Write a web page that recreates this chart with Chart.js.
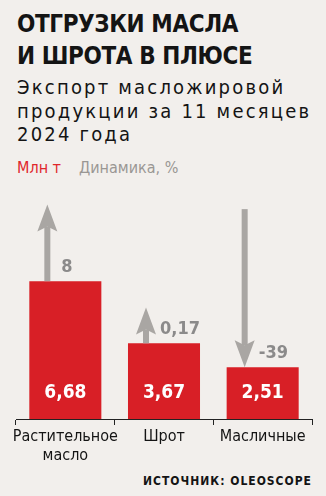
<!DOCTYPE html>
<html lang="ru">
<head>
<meta charset="utf-8">
<script src="https://cdn.jsdelivr.net/npm/chart.js@4"></script>
<style>
  html, body { margin: 0; padding: 0; }
  body {
    width: 326px; height: 496px; position: relative; overflow: hidden;
    background: #f2efec; color: #141414;
    font-family: "Liberation Sans Narrow", "DejaVu Sans Condensed", Roboto, sans-serif;
  }
  div { white-space: nowrap; }
  .title { position: absolute; left: 17px; top: 8px; font-size: 24px; line-height: 32px; font-weight: bold; letter-spacing: -0.4px; }
  .subtitle { position: absolute; left: 17px; top: 76px; font-size: 20px; line-height: 23.5px; letter-spacing: 2.2px; }
  .legend { position: absolute; top: 158px; font-size: 16px; line-height: 20px; }
  .legend.red { left: 17px; color: #e0262b; }
  .legend.grey { left: 79px; color: #9a9794; }
  .source { position: absolute; right: 14px; top: 474px; font-size: 12px; line-height: 14px; font-weight: bold; letter-spacing: 1px; }
  #chart { position: absolute; left: 0; top: 180px; }
</style>
</head>
<body>
<div class="title">ОТГРУЗКИ МАСЛА<br>И ШРОТА В ПЛЮСЕ</div>
<div class="subtitle">Экспорт масложировой<br>продукции за 11 месяцев<br>2024 года</div>
<div class="legend red">Млн т</div>
<div class="legend grey">Динамика, %</div>
<div class="source">ИСТОЧНИК: OLEOSCOPE</div>
<canvas id="chart" width="326" height="290"></canvas>
<script>
// Data
const categories = [['Растительное', 'масло'], 'Шрот', 'Масличные'];
const volumes = [6.68, 3.67, 2.51];          // млн т
const changes = [8, 0.17, -39];              // динамика, %
const arrowEnds = [10.4, 5.4, 10.17];        // far end of each arrow, in млн т scale units

const FONT = '"Liberation Sans Narrow", "DejaVu Sans Condensed", Roboto, sans-serif';
const RED = '#d81f26';
const ARROW_GREY = '#a9a6a3';
const LABEL_GREY = '#8b8a8a';

function formatNum(v) {
  return String(v).replace('.', ',');
}

function drawArrow(ctx, x, baseY, tipY) {
  const dir = tipY < baseY ? 1 : -1;   // 1 = pointing up
  ctx.save();
  ctx.fillStyle = ARROW_GREY;
  const shaftEnd = tipY + dir * 22;
  ctx.fillRect(x - 3, Math.min(baseY, shaftEnd), 6, Math.abs(baseY - shaftEnd));
  ctx.beginPath();
  ctx.moveTo(x, tipY);
  ctx.lineTo(x + 10, tipY + dir * 27);
  ctx.lineTo(x, tipY + dir * 22);
  ctx.lineTo(x - 10, tipY + dir * 27);
  ctx.closePath();
  ctx.fill();
  ctx.restore();
}

const labelsPlugin = {
  id: 'barLabels',
  afterDatasetsDraw(chart) {
    const ctx = chart.ctx;
    const y = chart.scales.y;
    const meta = chart.getDatasetMeta(0);
    const base = y.getPixelForValue(0);
    meta.data.forEach((bar, i) => {
      // value inside bar
      ctx.save();
      ctx.fillStyle = '#ffffff';
      ctx.font = 'bold 19px ' + FONT;
      ctx.textAlign = 'center';
      ctx.textBaseline = 'middle';
      ctx.fillText(formatNum(volumes[i]), bar.x, base - 26);
      ctx.restore();

      // change arrow
      const ax = bar.x - 18;
      const top = y.getPixelForValue(volumes[i]);
      const far = y.getPixelForValue(arrowEnds[i]);
      if (changes[i] >= 0) drawArrow(ctx, ax, top, far);
      else drawArrow(ctx, ax, far, top);

      // change label
      ctx.save();
      ctx.fillStyle = LABEL_GREY;
      ctx.font = 'bold 18px ' + FONT;
      ctx.textAlign = 'left';
      ctx.textBaseline = 'alphabetic';
      ctx.fillText(formatNum(changes[i]), ax + 14, top - 9);
      ctx.restore();
    });
  }
};

new Chart(document.getElementById('chart'), {
  type: 'bar',
  data: {
    labels: categories,
    datasets: [{
      data: volumes,
      backgroundColor: RED,
      borderWidth: 0,
      barPercentage: 0.73,
      categoryPercentage: 1
    }]
  },
  options: {
    responsive: false,
    animation: false,
    layout: { padding: { top: 12, left: 16, right: 14, bottom: 0 } },
    plugins: { legend: { display: false }, tooltip: { enabled: false } },
    scales: {
      y: { display: false, min: 0, max: 11 },
      x: {
        afterFit: scale => { scale.height = 51; },
        border: { display: true, color: '#222', width: 1 },
        grid: { display: true, drawOnChartArea: false, drawTicks: true, tickLength: 6, color: '#222', offset: true },
        ticks: {
          color: '#141414',
          padding: 3,
          maxRotation: 0,
          autoSkip: false,
          font: { family: FONT, size: 16, lineHeight: 1.15 }
        }
      }
    }
  },
  plugins: [labelsPlugin]
});
</script>
</body>
</html>
